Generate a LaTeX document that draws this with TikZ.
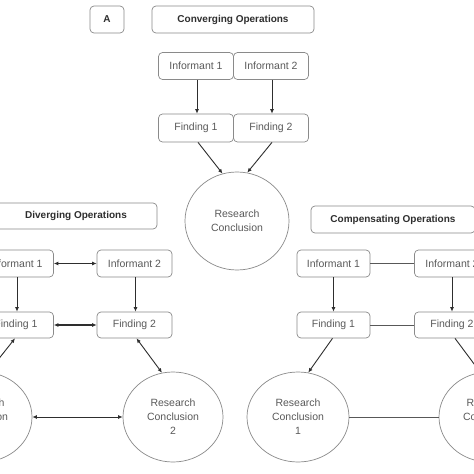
\documentclass[tikz,border=0pt]{standalone}
\usepackage{fontspec}
\setmainfont{Liberation Sans}
\usetikzlibrary{arrows.meta,shapes.geometric}
\definecolor{bord}{HTML}{8A8A8A}
\definecolor{txt}{HTML}{5A5A5A}
\definecolor{dark}{HTML}{2E2E2E}
\begin{document}
\begin{tikzpicture}[x=1pt,y=-1pt,
  box/.style={draw=bord, line width=0.7pt, rounded corners=4pt, inner sep=0pt, text=txt,
    font=\fontsize{10.5}{14}\selectfont, minimum width=75pt, minimum height=27pt},
  tbox/.style={box, text=dark, font=\bfseries\fontsize{10}{12}\selectfont},
  ell/.style={draw=bord, line width=0.7pt, ellipse, inner sep=0pt, text=txt, align=center,
    font=\fontsize{10.5}{14}\selectfont, minimum width=100pt, minimum height=90pt},
  arr/.style={draw=dark, line width=0.9pt, -{Latex[length=4.5pt,width=4pt]}},
  darr/.style={draw=dark, line width=0.9pt, {Latex[length=4.5pt,width=4pt]}-{Latex[length=4.5pt,width=4pt]}},
  pl/.style={draw=dark!80, line width=0.8pt}]
\clip (0,0) rectangle (474,474);
\fill[white] (0,0) rectangle (474,474);
% top: converging
\node[tbox, minimum width=34pt] (A) at (107,19.5) {A};
\node[tbox, minimum width=162pt] (conv) at (233,19.5) {Converging Operations};
\node[box] (ti1) at (196,66) {Informant 1};
\node[box] (ti2) at (271,66) {Informant 2};
\node[box, minimum height=28pt] (tf1) at (196,128) {Finding 1};
\node[box, minimum height=28pt] (tf2) at (271,128) {Finding 2};
\node[ell, minimum width=104pt, minimum height=98pt] (tc) at (237,221) {Research\\Conclusion};
\draw[arr] ([xshift=1pt]ti1.south) -- ([xshift=1pt]tf1.north);
\draw[arr] ([xshift=1pt]ti2.south) -- ([xshift=1pt]tf2.north);
\draw[arr] ([xshift=2pt]tf1.south) -- (tc.107);
\draw[arr] ([xshift=1pt]tf2.south) -- (tc.78);
% left: diverging
\node[tbox, minimum width=162pt, minimum height=26pt] (div) at (76,216) {Diverging Operations};
\node[box] (li1) at (16,263.5) {Informant 1};
\node[box] (li2) at (134.5,263.5) {Informant 2};
\node[box, minimum height=26pt] (lf1) at (16,325) {Finding 1};
\node[box, minimum height=26pt] (lf2) at (134.5,325) {Finding 2};
\node[ell] (le1) at (-18,417) {Research\\Conclusion\\1};
\node[ell] (le2) at (173,417) {Research\\Conclusion\\2};
\draw[darr] (li1.east) -- (li2.west);
\draw[arr] ([xshift=1pt]li1.south) -- ([xshift=1pt]lf1.north);
\draw[arr] ([xshift=1pt]li2.south) -- ([xshift=1pt]lf2.north);
\draw[darr, line width=1.3pt] (lf1.east) -- (lf2.west);
\draw[darr] ([xshift=-1pt]lf1.south) -- (le1.82);
\draw[darr] ([xshift=2pt]lf2.south) -- (le2.104);
\draw[darr] (le1.east) -- (le2.west);
% right: compensating
\node[tbox, minimum width=164pt] (comp) at (393,219.5) {Compensating Operations};
\node[box, minimum width=73pt] (ri1) at (333.5,263.5) {Informant 1};
\node[box] (ri2) at (452,263.5) {Informant 2};
\node[box, minimum width=73pt, minimum height=26pt] (rf1) at (333.5,325) {Finding 1};
\node[box, minimum height=26pt] (rf2) at (452,325) {Finding 2};
\node[ell, minimum width=102pt] (re1) at (298,417) {Research\\Conclusion\\1};
\node[ell] (re2) at (489,417) {Research\\Conclusion\\2};
\draw[pl] (ri1.east) -- (ri2.west);
\draw[pl] (rf1.east) -- (rf2.west);
\draw[arr] (ri1.south) -- (rf1.north);
\draw[arr] (ri2.south) -- (rf2.north);
\draw[arr] ([xshift=-1pt]rf1.south) -- (re1.77);
\draw[arr] ([xshift=3pt]rf2.south) -- (re2.101);
\draw[pl] (re1.east) -- (re2.west);
\end{tikzpicture}
\end{document}
